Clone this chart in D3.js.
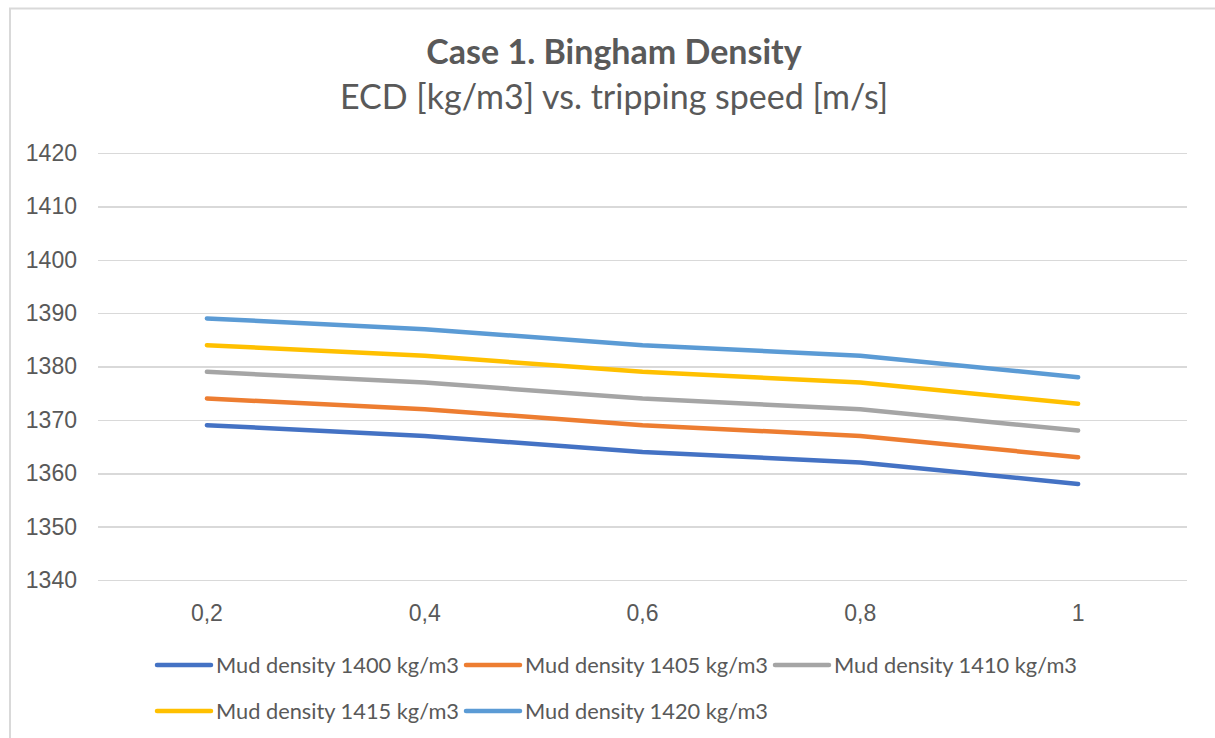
<!DOCTYPE html>
<html>
<head>
<meta charset="utf-8">
<style>
    body { margin: 0; background: white; }
    svg { font-family: Lato, "Open Sans", sans-serif; }
    .grid line { stroke: #d9d9d9; stroke-width: 1.5px; shape-rendering: crispEdges; }
    .tick text { fill: #595959; }
    .series { fill: none; stroke-width: 4.5px; stroke-linecap: round; stroke-linejoin: round; }
</style>
<script src="https://cdn.jsdelivr.net/npm/d3@7"></script>
<title>Case 1. Bingham Density</title>
</head>
<body>
<div id="chart"></div>
<script>
    // data
    var speeds = ["0,2", "0,4", "0,6", "0,8", "1"];
    var yTicks = [1340, 1350, 1360, 1370, 1380, 1390, 1400, 1410, 1420];
    var seriesNames = ["Mud density 1400 kg/m3", "Mud density 1405 kg/m3", "Mud density 1410 kg/m3",
                       "Mud density 1415 kg/m3", "Mud density 1420 kg/m3"];
    var ecd1400 = [1369, 1367, 1364, 1362, 1358];
    var ecd1405 = [1374, 1372, 1369, 1367, 1363];
    var ecd1410 = [1379, 1377, 1374, 1372, 1368];
    var ecd1415 = [1384, 1382, 1379, 1377, 1373];
    var ecd1420 = [1389, 1387, 1384, 1382, 1378];
    var colors = ["#4472c4", "#ed7d31", "#a5a5a5", "#ffc000", "#5b9bd5"];

    var series = [ecd1400, ecd1405, ecd1410, ecd1415, ecd1420].map(function (v, i) {
        return { name: seriesNames[i], values: v, color: colors[i] };
    });

    var W = 1215, H = 738;
    var margin = { top: 153, right: 28, bottom: 158, left: 98 };
    var width = W - margin.left - margin.right,
        height = H - margin.top - margin.bottom;

    var svg = d3.select("#chart").append("svg")
        .attr("width", W)
        .attr("height", H);

    // chart frame (only top and left edge visible in the crop)
    svg.append("path")
        .attr("d", "M10,738V8.5H1215")
        .attr("fill", "none")
        .attr("stroke", "#d9d9d9")
        .attr("stroke-width", 2);

    // titles
    svg.append("text")
        .attr("x", 614).attr("y", 64)
        .attr("text-anchor", "middle")
        .attr("fill", "#595959")
        .style("font-size", "34px")
        .style("font-weight", "bold")
        .text("Case 1. Bingham Density");

    svg.append("text")
        .attr("x", 614).attr("y", 109)
        .attr("text-anchor", "middle")
        .attr("fill", "#595959")
        .style("font-size", "34px")
        .text("ECD [kg/m3] vs. tripping speed [m/s]");

    var g = svg.append("g")
        .attr("transform", "translate(" + margin.left + "," + margin.top + ")");

    var x = d3.scaleBand()
        .domain(speeds)
        .range([0, width]);

    var y = d3.scaleLinear()
        .domain([1340, 1420])
        .range([height, 0]);

    // horizontal gridlines + y labels
    var yAxis = g.append("g")
        .attr("class", "grid")
        .call(d3.axisLeft(y).tickValues(yTicks).tickSize(-width).tickPadding(21).tickFormat(d3.format("d")));
    yAxis.select(".domain").remove();
    yAxis.selectAll(".tick text").style("font-size", "23px");

    // x labels
    var xAxis = g.append("g")
        .attr("transform", "translate(0," + height + ")")
        .call(d3.axisBottom(x).tickSize(0).tickPadding(25));
    xAxis.select(".domain").remove();
    xAxis.selectAll(".tick text").style("font-size", "23px");

    var line = d3.line()
        .x(function (d, i) { return x(speeds[i]) + x.bandwidth() / 2; })
        .y(function (d) { return y(d); });

    g.selectAll(".series")
        .data(series)
        .enter().append("path")
        .attr("class", "series")
        .attr("stroke", function (d) { return d.color; })
        .attr("d", function (d) { return line(d.values); });

    // legend: three columns, two rows
    var legend = svg.append("g");
    var items = legend.selectAll("g")
        .data(series)
        .enter().append("g");
    items.append("line")
        .attr("x1", 0).attr("x2", 54)
        .attr("y1", 0).attr("y2", 0)
        .attr("stroke", function (d) { return d.color; })
        .attr("stroke-width", 4.5)
        .attr("stroke-linecap", "round");
    items.append("text")
        .attr("x", 59).attr("dy", "0.35em")
        .attr("fill", "#595959")
        .style("font-size", "21.8px")
        .text(function (d) { return d.name; });

    var maxW = d3.max(items.selectAll("text").nodes(), function (n) { return n.getComputedTextLength(); });
    var colW = 59 + maxW + 7;
    var blockW = colW * 3 - 7;
    var x0 = 617 - blockW / 2;
    items.attr("transform", function (d, i) {
        return "translate(" + (x0 + (i % 3) * colW) + "," + (665 + Math.floor(i / 3) * 46) + ")";
    });
</script>
</body>
</html>
